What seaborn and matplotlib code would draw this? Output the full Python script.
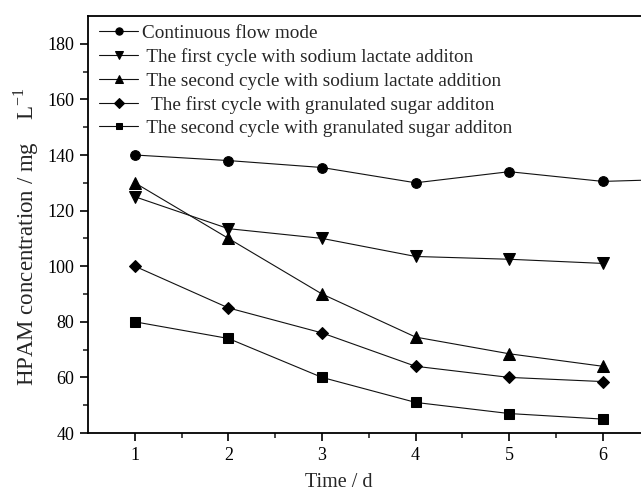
import numpy as np
import pandas as pd
import matplotlib
matplotlib.use("Agg")
import matplotlib.pyplot as plt
import seaborn as sns

days = [1, 2, 3, 4, 5, 6]
days_cont = [1, 2, 3, 4, 5, 6, 7]
continuous = [140, 138, 135.5, 130, 134, 130.5, 131.5]
lactate_1 = [125, 113.5, 110, 103.5, 102.5, 101]
lactate_2 = [130, 110, 90, 74.5, 68.5, 64]
sugar_1 = [100, 85, 76, 64, 60, 58.5]
sugar_2 = [80, 74, 60, 51, 47, 45]
labels = ["Continuous flow mode",
          " The first cycle with sodium lactate additon",
          " The second cycle with sodium lactate addition",
          "  The first cycle with granulated sugar additon",
          " The second cycle with granulated sugar additon"]
xtick_labels = ["1", "2", "3", "4", "5", "6"]
markers = ["o", "v", "^", "D", "s"]
msizes = [7, 8, 8, 6.5, 6.5]

sns.set_style("ticks")
plt.rcParams['font.family'] = ['Liberation Serif', 'DejaVu Serif']
plt.rcParams['mathtext.fontset'] = 'custom'
plt.rcParams['mathtext.rm'] = 'Liberation Serif'

fig = plt.figure(figsize=(6.41, 4.92), dpi=100)
axw = 6 * 93.6
ax = fig.add_axes([88/641, 1-433/492, axw/641, (433-16)/492])

series = [(days_cont, continuous), (days, lactate_1), (days, lactate_2), (days, sugar_1), (days, sugar_2)]
for (xs, ys), lab, m, ms in zip(series, labels, markers, msizes):
    df = pd.DataFrame({"x": xs, "y": ys})
    sns.lineplot(data=df, x="x", y="y", ax=ax, color="#111111", lw=0.8,
                 marker=m, markersize=ms, markeredgecolor="black",
                 markerfacecolor="black", label=lab)

ax.set_xlim(0.5, 6.5)
ax.set_ylim(40, 190)
ax.set_xticks(days)
ax.set_xticklabels(xtick_labels)
ax.set_xticks(np.arange(1.5, 7.0, 1), minor=True)
ax.set_yticks(np.arange(40, 181, 20))
ax.set_yticks(np.arange(50, 190, 20), minor=True)
ax.tick_params(axis="both", which="major", direction="out", length=6, width=1.2, labelsize=13, colors="black", pad=4)
ax.tick_params(axis="both", which="minor", direction="out", length=3.5, width=1.2)
for s in ax.spines.values():
    s.set_linewidth(1.3)
    s.set_color("black")
ax.set_xlabel("Time / d", fontsize=14.5)
ax.xaxis.set_label_coords((339 - 88) / axw, -0.095)
ax.set_ylabel("HPAM concentration / mg    L$^{\\mathregular{-1}}$", fontsize=16.5, labelpad=2)
ax.yaxis.set_label_coords(-0.084, 0.47)

leg = ax.legend(loc="upper left", frameon=False, fontsize=13.8, handlelength=2.0,
                handletextpad=0.2, labelspacing=0.32, borderaxespad=0.05,
                markerscale=0.75, bbox_to_anchor=(0.005, 1.0))

fig.savefig("out.png", dpi=100)
